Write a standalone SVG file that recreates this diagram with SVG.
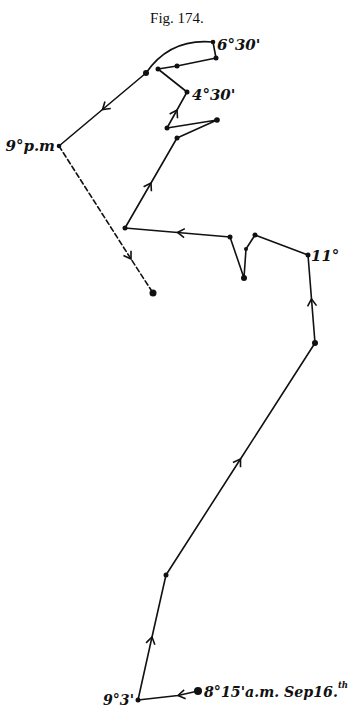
<svg xmlns="http://www.w3.org/2000/svg" width="355" height="708" viewBox="0 0 355 708">
<style>
.ln{fill:none;stroke:#111;stroke-width:1.6;stroke-linecap:round;stroke-linejoin:round}
.ar{marker-mid:url(#chev)}
.dash{stroke-dasharray:5,3}
.dot{fill:#111}
.lbl{font-family:"DejaVu Serif","Liberation Serif",serif;font-weight:bold;font-style:italic;fill:#111;font-size:15px}
.sup{font-size:9px}
.ttl{font-family:"Liberation Serif",serif;fill:#111;font-size:15px}
</style>
<defs>
<marker id="chev" markerUnits="userSpaceOnUse" markerWidth="16" markerHeight="16" refX="0" refY="0" viewBox="-8 -8 16 16" orient="auto" overflow="visible">
<path d="M-7,-4.5 L0,0 L-7,4.5" fill="none" stroke="#111" stroke-width="1.6" stroke-linejoin="miter"/>
</marker>
</defs>
<rect width="355" height="708" fill="#fff"/>
<text class="ttl" x="177" y="23" text-anchor="middle">Fig. 174.</text>
<g id="connectors">
<path class="ln ar" d="M198,691 L178,695.5 L138,700"/>
<path class="ln ar" d="M138,700 L152,637 L166,575"/>
<path class="ln ar" d="M166,575 L240.5,459 L315,343"/>
<path class="ln ar" d="M315,343 L311.5,299 L308,255"/>
<path class="ln" d="M308,255 L255,235 L246,249 L244,278 L230,237"/>
<path class="ln ar" d="M230,237 L177.5,232.5 L125,228"/>
<path class="ln ar" d="M125,228 L151,183 L177,138"/>
<path class="ln" d="M177,138 L217,120 L167,128"/>
<path class="ln ar" d="M167,128 L177,110 L187,92"/>
<path class="ln" d="M187,92 L158,69 L177,66 L216,58 L213,42"/>
<path class="ln" d="M213,42 Q170,38 146,73"/>
<path class="ln ar" d="M146,73 L102.5,109.5 L59,146"/>
<path class="ln ar dash" d="M59,146 L131,259 L153,293"/>
</g>
<g id="n815"><circle class="dot" cx="198" cy="691" r="4"/><text class="lbl" x="204" y="697" textLength="144" lengthAdjust="spacingAndGlyphs">8°15'a.m. Sep16.<tspan class="sup" dy="-9">th</tspan></text></g>
<g id="n93"><circle class="dot" cx="138" cy="700" r="2.5"/><text class="lbl" x="103" y="705" textLength="31" lengthAdjust="spacingAndGlyphs">9°3'</text></g>
<g id="n2"><circle class="dot" cx="166" cy="575" r="2.5"/></g>
<g id="n3"><circle class="dot" cx="315" cy="343" r="3"/></g>
<g id="n11"><circle class="dot" cx="308" cy="255" r="2.5"/><text class="lbl" x="311" y="261">11°</text></g>
<g id="n5"><circle class="dot" cx="255" cy="235" r="2.5"/></g>
<g id="n6"><circle class="dot" cx="246" cy="249" r="2"/></g>
<g id="n7"><circle class="dot" cx="244" cy="278" r="3"/></g>
<g id="n8"><circle class="dot" cx="230" cy="237" r="2.5"/></g>
<g id="n9"><circle class="dot" cx="125" cy="228" r="2.5"/></g>
<g id="n10"><circle class="dot" cx="177" cy="138" r="2.5"/></g>
<g id="n12"><circle class="dot" cx="217" cy="120" r="2.8"/></g>
<g id="n13"><circle class="dot" cx="167" cy="128" r="2.5"/></g>
<g id="n430"><circle class="dot" cx="187" cy="92" r="2.5"/><text class="lbl" x="192" y="100">4°30'</text></g>
<g id="n14"><circle class="dot" cx="158" cy="69" r="2.5"/></g>
<g id="n15"><circle class="dot" cx="177" cy="66" r="2.5"/></g>
<g id="n16"><circle class="dot" cx="216" cy="58" r="2.5"/></g>
<g id="n630"><circle class="dot" cx="213" cy="42" r="2.3"/><text class="lbl" x="217" y="50">6°30'</text></g>
<g id="n17"><circle class="dot" cx="146" cy="73" r="3"/></g>
<g id="n9pm"><circle class="dot" cx="59" cy="146" r="2.3"/><text class="lbl" x="55" y="151" text-anchor="end">9°p.m</text></g>
<g id="nend"><circle class="dot" cx="153" cy="293" r="3.5"/></g>
</svg>
